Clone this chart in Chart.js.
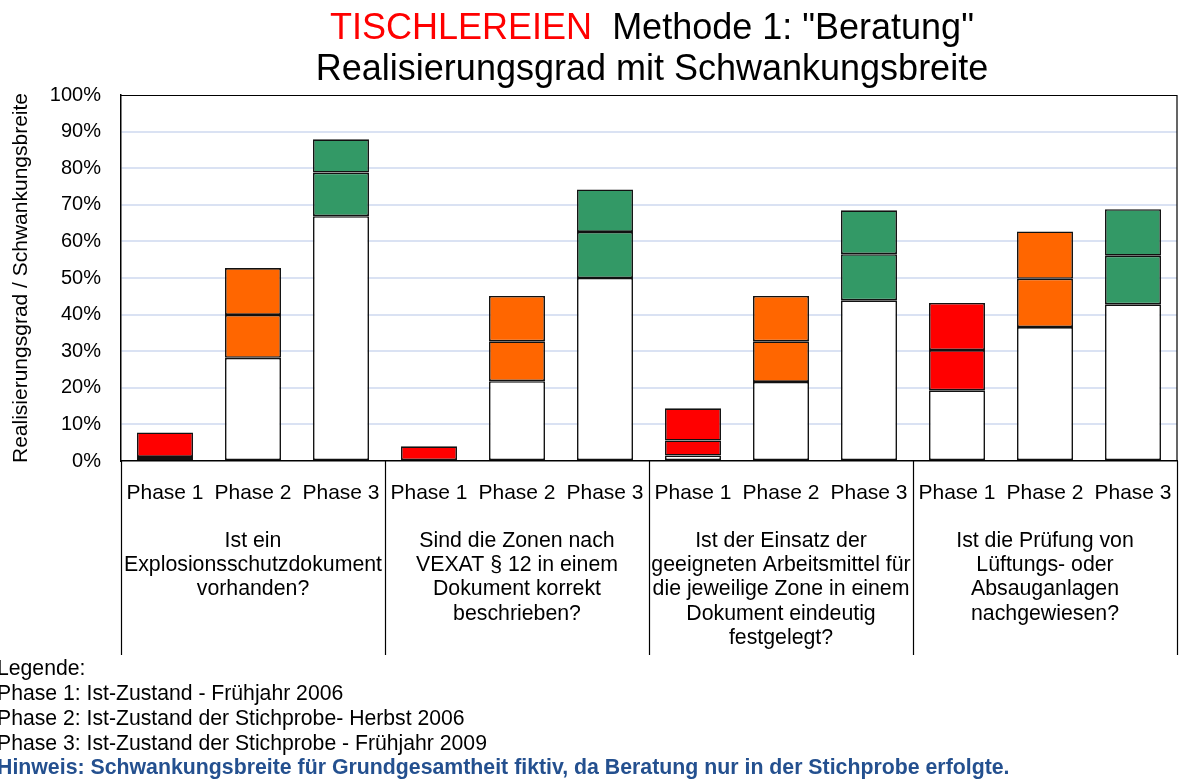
<!DOCTYPE html>
<html>
<head>
<meta charset="utf-8">
<script src="https://cdn.jsdelivr.net/npm/chart.js@4/dist/chart.umd.min.js"></script>
<style>
  html, body { margin: 0; padding: 0; background: #fff; }
  #wrap { position: relative; width: 1181px; height: 781px; overflow: hidden; font-family: "Liberation Sans", Arial, sans-serif; }
  #chartBox { position: absolute; left: 0; top: 0; width: 1181px; height: 781px; }
  .title { position: absolute; left: 0; width: 1304px; text-align: center; font-size: 36px; line-height: 40px; color: #000; white-space: nowrap; }
  .title .red { color: #ff0000; }
  .note { position: absolute; left: -3px; font-size: 21.2px; color: #000; white-space: nowrap; line-height: 25px; }
  .note.hint { color: #24508f; font-weight: bold; font-size: 21.3px; }
</style>
</head>
<body>
<div id="wrap">
  <div id="chartBox"><canvas id="c"></canvas></div>
  <div class="title" style="top:7px;"><span class="red">TISCHLEREIEN</span>&nbsp; Methode 1: "Beratung"</div>
  <div class="title" style="top:48px;">Realisierungsgrad mit Schwankungsbreite</div>
  <div class="note" style="top:655px;">Legende:</div>
  <div class="note" style="top:680px;">Phase 1: Ist-Zustand - Frühjahr 2006</div>
  <div class="note" style="top:705px;">Phase 2: Ist-Zustand der Stichprobe- Herbst 2006</div>
  <div class="note" style="top:730px;">Phase 3: Ist-Zustand der Stichprobe - Frühjahr 2009</div>
  <div class="note hint" style="top:755px;">Hinweis: Schwankungsbreite für Grundgesamtheit fiktiv, da Beratung nur in der Stichprobe erfolgte.</div>
</div>
<script>
// ---- data ----
const categories = ["Phase 1","Phase 2","Phase 3","Phase 1","Phase 2","Phase 3","Phase 1","Phase 2","Phase 3","Phase 1","Phase 2","Phase 3"];
const groupLabels = [
  ["Ist ein", "Explosionsschutzdokument", "vorhanden?"],
  ["Sind die Zonen nach", "VEXAT § 12 in einem", "Dokument korrekt", "beschrieben?"],
  ["Ist der Einsatz der", "geeigneten Arbeitsmittel für", "die jeweilige Zone in einem", "Dokument eindeutig", "festgelegt?"],
  ["Ist die Prüfung von", "Lüftungs- oder", "Absauganlagen", "nachgewiesen?"]
];
// lower bound, mean (Realisierungsgrad), upper bound, in %
const lowerBound = [0, 28.2, 66.9, 0, 21.8, 50.0, 1.5, 21.6, 43.9, 19.3, 36.6, 42.8];
const meanValue  = [1.1, 39.9, 78.8, 0, 32.7, 62.6, 5.6, 32.7, 56.5, 30.3, 49.8, 56.1];
const upperBound = [7.8, 52.7, 87.9, 4.0, 45.1, 74.2, 14.4, 45.1, 68.5, 43.2, 62.7, 68.8];
const yTicks = [0,10,20,30,40,50,60,70,80,90,100];
const phaseColors = ["#ff0000", "#ff6600", "#339966"];

const barColors = categories.map((c, i) => phaseColors[i % 3]);
const FONT = '"Liberation Sans", Arial, sans-serif';

const common = {
  borderColor: "#111",
  borderWidth: 1.6,
  borderSkipped: false,
  barPercentage: 0.636,
  categoryPercentage: 1.0,
  grouped: false
};

const groupPlugin = {
  id: "groupPlugin",
  afterDraw(chart) {
    const ctx = chart.ctx;
    const xs = chart.scales.x;
    const ca = chart.chartArea;
    ctx.save();
    ctx.strokeStyle = "#000";
    ctx.lineWidth = 1.2;
    ctx.beginPath();
    ctx.moveTo(ca.left, ca.top + 0.5);
    ctx.lineTo(ca.right, ca.top + 0.5);
    ctx.lineTo(ca.right, ca.bottom);
    ctx.stroke();
    const n = groupLabels.length;
    for (let g = 0; g <= n; g++) {
      let x;
      if (g === 0) x = ca.left;
      else if (g === n) x = ca.right;
      else x = (xs.getPixelForValue(3 * g - 1) + xs.getPixelForValue(3 * g)) / 2;
      x = Math.round(x) + 0.5;
      ctx.beginPath();
      ctx.moveTo(x, ca.bottom);
      ctx.lineTo(x, 655);
      ctx.stroke();
    }
    ctx.fillStyle = "#000";
    ctx.font = '21.3px ' + FONT;
    ctx.textAlign = "center";
    ctx.textBaseline = "middle";
    groupLabels.forEach((lines, g) => {
      const cx = (xs.getPixelForValue(3 * g) + xs.getPixelForValue(3 * g + 2)) / 2;
      lines.forEach((t, k) => ctx.fillText(t, cx, 541 + k * 24.3));
    });
    ctx.restore();
  }
};

new Chart(document.getElementById("c"), {
  type: "bar",
  data: {
    labels: categories,
    datasets: [
      Object.assign({ label: "Basis", data: lowerBound.map(v => [0, v]), backgroundColor: "#ffffff" }, common),
      Object.assign({ label: "unten", data: lowerBound.map((v, i) => [v, meanValue[i]]), backgroundColor: barColors }, common),
      Object.assign({ label: "oben", data: meanValue.map((v, i) => [v, upperBound[i]]), backgroundColor: barColors }, common)
    ]
  },
  options: {
    responsive: true,
    maintainAspectRatio: false,
    animation: false,
    layout: { padding: { top: 95, right: 4, left: 0, bottom: 0 } },
    plugins: { legend: { display: false }, tooltip: { enabled: false }, title: { display: false } },
    scales: {
      x: {
        afterFit(s) { s.height = 320; s.paddingLeft = 0; s.paddingRight = 0; },
        grid: { display: false, drawTicks: false },
        border: { display: true, color: "#000", width: 1.5 },
        ticks: { color: "#000", padding: 20, maxRotation: 0, autoSkip: false,
                 font: { family: FONT, size: 21 } }
      },
      y: {
        min: 0, max: 100,
        afterFit(s) { s.width = 121; s.paddingTop = 0; s.paddingBottom = 0; },
        afterBuildTicks(s) { s.ticks = yTicks.map(v => ({ value: v })); },
        grid: {
          drawTicks: false,
          lineWidth: 2,
          color: ctx => (ctx.tick && (ctx.tick.value === 0 || ctx.tick.value === 100)) ? "rgba(0,0,0,0)" : "#dae2f3"
        },
        border: { display: true, color: "#000", width: 1.5 },
        ticks: { color: "#000", padding: 20, callback: v => v + "%",
                 font: { family: FONT, size: 20 } },
        title: { display: true, text: "Realisierungsgrad / Schwankungsbreite", color: "#000",
                 padding: { top: 9, bottom: 0 },
                 font: { family: FONT, size: 21 } }
      }
    }
  },
  plugins: [groupPlugin]
});
</script>
</body>
</html>
